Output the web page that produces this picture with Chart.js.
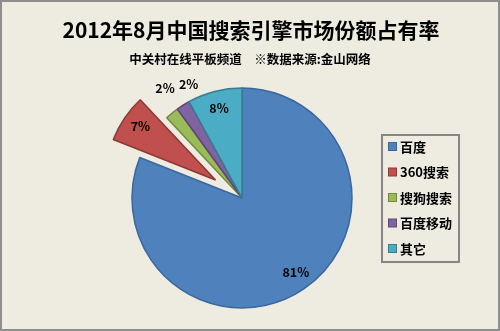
<!DOCTYPE html>
<html>
<head>
<meta charset="utf-8">
<script src="https://cdn.jsdelivr.net/npm/chart.js@4/dist/chart.umd.min.js"></script>
<style>
  html, body { margin: 0; padding: 0; background: #EEECE1; }
  #wrap { width: 500px; height: 331px; position: relative; }
</style>
</head>
<body>
<div id="wrap"><canvas id="c" width="500" height="331"></canvas></div>
<script>
// Search engine market share, August 2012
const titleText = '2012年8月中国搜索引擎市场份额占有率';
const subtitleText = '中关村在线平板频道　※数据来源:金山网络';
const categories = ['百度', '360搜索', '搜狗搜索', '百度移动', '其它'];
const shares = [81, 7, 2, 2, 8];

const fills   = ['#4F81BD', '#C0504D', '#9BBB59', '#8064A2', '#4BACC6'];
const borders = ['#3A679E', '#8C3836', '#71893F', '#5C4776', '#357D91'];
// how far each slice is pulled out from the centre, in px
const explode = [0, 32, 0, 0, 0];
// radial position of each value label (fraction of radius) and angular nudge in degrees
const labelPlace = [
  { r: 0.83, nudge: -1.9 },
  { r: 0.84, nudge: 1.4 },
  { r: 1.22, nudge: 4.6 },
  { r: 1.14, nudge: 7.2 },
  { r: 0.84, nudge: 0 }
];

const FONT = '"Noto Sans CJK SC", "Noto Sans", sans-serif';

function midAngle(arc) {
  const p = arc.getProps(['startAngle', 'endAngle']);
  return (p.startAngle + p.endAngle) / 2;
}

// pull exploded slices outwards without changing their radius
const explodePlugin = {
  id: 'explode',
  beforeDatasetsDraw(chart) {
    const meta = chart.getDatasetMeta(0);
    meta.data.forEach((arc, i) => {
      if (!explode[i] || arc._exploded) return;
      const orig = arc.draw;
      arc.draw = function (ctx) {
        const a = midAngle(this);
        ctx.save();
        ctx.translate(Math.cos(a) * explode[i], Math.sin(a) * explode[i]);
        orig.call(this, ctx);
        ctx.restore();
      };
      arc._exploded = true;
    });
  }
};

const frame = {
  id: 'frame',
  beforeDraw(chart) {
    const { ctx, width, height } = chart;
    ctx.save();
    ctx.fillStyle = '#EEECE1';
    ctx.fillRect(0, 0, width, height);
    ctx.restore();
  },
  afterDraw(chart) {
    const { ctx, width, height } = chart;
    ctx.save();
    // titles
    ctx.fillStyle = '#000';
    ctx.textAlign = 'center';
    ctx.textBaseline = 'middle';
    ctx.font = 'bold 21px ' + FONT;
    ctx.fillText(titleText, 251, 30);
    ctx.font = 'bold 12.5px ' + FONT;
    ctx.fillText(subtitleText, 250, 59);

    // value labels
    const meta = chart.getDatasetMeta(0);
    ctx.font = 'bold 12.5px ' + FONT;
    meta.data.forEach((arc, i) => {
      const p = arc.getProps(['x', 'y', 'outerRadius']);
      const mid = midAngle(arc);
      const off = explode[i];
      const cx = p.x + Math.cos(mid) * off;
      const cy = p.y + Math.sin(mid) * off;
      const a = mid + labelPlace[i].nudge * Math.PI / 180;
      const d = p.outerRadius * labelPlace[i].r;
      ctx.fillText(shares[i] + '%', cx + Math.cos(a) * d, cy + Math.sin(a) * d);
    });

    // legend
    const lx = 382, ly = 135, lw = 77, lh = 127;
    ctx.strokeStyle = '#868686';
    ctx.lineWidth = 2;
    ctx.strokeRect(lx, ly, lw, lh);
    ctx.textAlign = 'left';
    ctx.font = 'bold 13px ' + FONT;
    categories.forEach((name, i) => {
      const yc = 146.5 + i * 25.5;
      ctx.fillStyle = fills[i];
      ctx.fillRect(388.5, yc - 4, 8, 8);
      ctx.strokeStyle = borders[i];
      ctx.lineWidth = 1;
      ctx.strokeRect(388.5, yc - 4, 8, 8);
      ctx.fillStyle = '#000';
      ctx.fillText(name, 400, yc + 0.5);
    });

    // outer frame
    ctx.strokeStyle = '#8E8E8E';
    ctx.lineWidth = 2;
    ctx.strokeRect(1, 1, width - 2, height - 2);
    ctx.restore();
  }
};

new Chart(document.getElementById('c'), {
  type: 'pie',
  data: {
    labels: categories,
    datasets: [{
      data: shares,
      backgroundColor: fills,
      borderColor: borders,
      borderWidth: 1.5
    }]
  },
  options: {
    responsive: false,
    animation: false,
    radius: 110,
    layout: { padding: { left: 100, right: 116, top: 80, bottom: 15 } },
    plugins: {
      legend: { display: false },
      title: { display: false },
      tooltip: { enabled: false }
    }
  },
  plugins: [explodePlugin, frame]
});
</script>
</body>
</html>
